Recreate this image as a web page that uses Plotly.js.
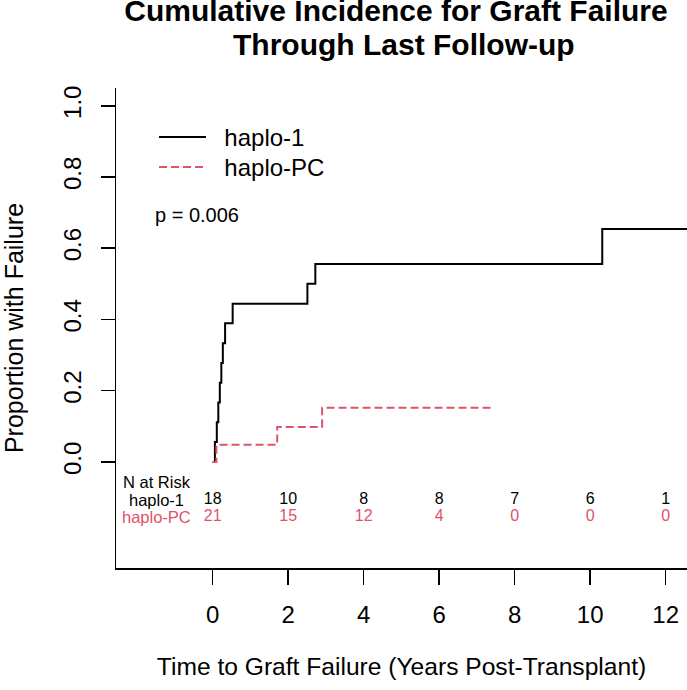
<!DOCTYPE html>
<html>
<head>
<meta charset="utf-8">
<script src="https://cdn.plot.ly/plotly-3.0.1.min.js"></script>
<style>
  html, body { margin: 0; padding: 0; background: #ffffff; }
  #chart { width: 687px; height: 690px; }
</style>
</head>
<body>
<div id="chart"></div>
<script>
// Cumulative incidence of graft failure (step curves)
const haplo1Time  = [0, 0.06, 0.11, 0.15, 0.19, 0.23, 0.27, 0.33, 0.53, 2.51, 2.72, 10.32, 12.8];
const haplo1CumInc = [0, 0.056, 0.111, 0.167, 0.222, 0.278, 0.333, 0.389, 0.444, 0.500, 0.556, 0.654, 0.654];

const haploPCTime  = [0, 0.10, 1.71, 2.90, 7.46];
const haploPCCumInc = [0, 0.048, 0.098, 0.152, 0.152];

// Number at risk table
const riskTimes = [0, 2, 4, 6, 8, 10, 12];
const riskHaplo1 = [18, 10, 8, 8, 7, 6, 1];
const riskHaploPC = [21, 15, 12, 4, 0, 0, 0];

const groupNames = ['haplo-1', 'haplo-PC'];
const pValueText = 'p = 0.006';
const titleLines = ['Cumulative Incidence for Graft Failure', 'Through Last Follow-up'];

const xTicks = [0, 2, 4, 6, 8, 10, 12];
const yTicks = [0, 0.2, 0.4, 0.6, 0.8, 1.0];
const yTickLabels = ['0.0', '0.2', '0.4', '0.6', '0.8', '1.0'];

const FONT = 'Liberation Sans, Arial, Helvetica, sans-serif';
const BLACK = '#000000';
const RED = '#DF536B';

// vertical positions of the risk-table rows (data units, below zero)
const headerRowY = -0.056;
const row1Y = -0.106;
const row2Y = -0.156;
const labelColX = -1.475;

// legend entries get a small gap between the key line and the label
const GAP = '\u00a0\u00a0';

const traces = [
  {
    x: haplo1Time, y: haplo1CumInc, name: GAP + groupNames[0],
    type: 'scatter', mode: 'lines', legend: 'legend',
    line: { shape: 'hv', color: BLACK, width: 2 },
    hoverinfo: 'skip'
  },
  {
    x: haploPCTime, y: haploPCCumInc, name: GAP + groupNames[1],
    type: 'scatter', mode: 'lines', legend: 'legend2',
    line: { shape: 'hv', color: RED, width: 2, dash: '8px,4px' },
    hoverinfo: 'skip'
  },
  {
    x: riskTimes, y: riskTimes.map(() => row1Y),
    text: riskHaplo1.map(String),
    type: 'scatter', mode: 'text', showlegend: false, cliponaxis: false,
    textfont: { family: FONT, size: 16, color: BLACK },
    hoverinfo: 'skip'
  },
  {
    x: riskTimes, y: riskTimes.map(() => row2Y),
    text: riskHaploPC.map(String),
    type: 'scatter', mode: 'text', showlegend: false, cliponaxis: false,
    textfont: { family: FONT, size: 16, color: RED },
    hoverinfo: 'skip'
  }
];

const legendBase = {
  x: (154 - 116) / 571, xanchor: 'left', yanchor: 'top',
  bgcolor: 'rgba(0,0,0,0)', borderwidth: 0,
  itemwidth: 47,
  font: { family: FONT, size: 24, color: BLACK }
};

const layout = {
  width: 687,
  height: 690,
  margin: { l: 116, r: 0, t: 88, b: 122, pad: 0 },
  paper_bgcolor: '#ffffff',
  plot_bgcolor: '#ffffff',
  font: { family: FONT, color: BLACK, size: 24 },
  title: {
    text: '<b>' + titleLines[0] + '</b>',
    font: { family: FONT, size: 30, color: BLACK },
    xref: 'container', yref: 'container',
    x: 396 / 687, xanchor: 'center',
    y: 1 - 10 / 690, yanchor: 'middle',
    pad: { t: 0, b: 0, l: 0, r: 0 }
  },
  xaxis: {
    range: [-2.56, 12.565],
    tickvals: xTicks,
    ticks: 'outside', ticklen: 15, tickwidth: 1.5, tickcolor: BLACK,
    showline: true, linewidth: 1.5, linecolor: BLACK,
    showgrid: false, zeroline: false,
    tickfont: { family: FONT, size: 24, color: BLACK },
    ticklabelstandoff: 10,
    title: {
      text: 'Time to Graft Failure (Years Post-Transplant)',
      font: { family: FONT, size: 24.6, color: BLACK },
      standoff: 30
    }
  },
  yaxis: {
    range: [-0.298, 1.05],
    tickvals: yTicks, ticktext: yTickLabels, tickangle: -90,
    ticks: 'outside', ticklen: 14, tickwidth: 1.5, tickcolor: BLACK,
    showline: true, linewidth: 1.5, linecolor: BLACK,
    showgrid: false, zeroline: false,
    tickfont: { family: FONT, size: 24, color: BLACK },
    ticklabelstandoff: 10,
    title: {
      text: 'Proportion with Failure',
      font: { family: FONT, size: 25, color: BLACK },
      standoff: 30
    }
  },
  showlegend: true,
  legend: Object.assign({}, legendBase, { y: (568 - 115) / 480 }),
  legend2: Object.assign({}, legendBase, { y: (568 - 145) / 480 }),
  annotations: [
    { text: '<b>' + titleLines[1] + '</b>', x: (404 - 116) / 571, y: 1 + (88 - 44) / 480,
      xref: 'paper', yref: 'paper', xanchor: 'center', yanchor: 'middle',
      showarrow: false, font: { family: FONT, size: 30, color: BLACK } },
    { text: pValueText, x: -1.58, y: 0.694, xref: 'x', yref: 'y',
      xanchor: 'left', yanchor: 'middle', showarrow: false,
      font: { family: FONT, size: 20, color: BLACK } },
    { text: 'N at Risk', x: labelColX, y: headerRowY, xref: 'x', yref: 'y',
      xanchor: 'center', yanchor: 'middle', showarrow: false,
      font: { family: FONT, size: 16.5, color: BLACK } },
    { text: groupNames[0], x: labelColX, y: row1Y, xref: 'x', yref: 'y',
      xanchor: 'center', yanchor: 'middle', showarrow: false,
      font: { family: FONT, size: 16.5, color: BLACK } },
    { text: groupNames[1], x: labelColX, y: row2Y, xref: 'x', yref: 'y',
      xanchor: 'center', yanchor: 'middle', showarrow: false,
      font: { family: FONT, size: 16.5, color: RED } }
  ]
};

Plotly.newPlot('chart', traces, layout, { displayModeBar: false, staticPlot: true });
</script>
</body>
</html>
